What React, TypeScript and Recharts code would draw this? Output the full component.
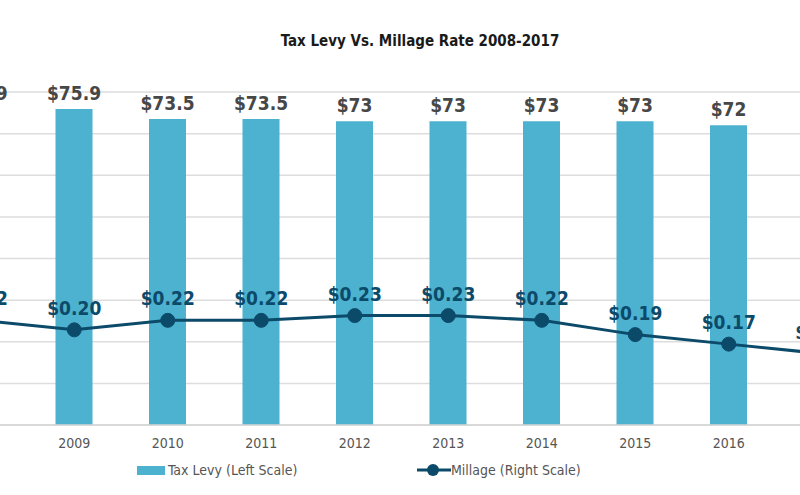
import React from "react";
import {
  ComposedChart,
  Bar,
  Line,
  XAxis,
  YAxis,
  CartesianGrid,
  LabelList,
} from "recharts";

const years = ["2008", "2009", "2010", "2011", "2012", "2013", "2014", "2015", "2016", "2017"];
const taxLevy = [75.9, 75.9, 73.5, 73.5, 73, 73, 73, 73, 72, 71];
const millage = [0.22, 0.2, 0.22, 0.22, 0.23, 0.23, 0.22, 0.19, 0.17, 0.15];
const levyTicks = [0, 10, 20, 30, 40, 50, 60, 70, 80];

const data = years.map((y, i) => ({ year: y, levy: taxLevy[i], millage: millage[i] }));

const FONT = "'DejaVu Sans Condensed', 'Liberation Sans Narrow', sans-serif";
const BAR = "#4db2cf";
const LINE = "#0c4a6a";

export default function App() {
  return (
    <div
      style={{
        position: "fixed",
        left: 0,
        top: 0,
        width: 800,
        height: 495,
        overflow: "hidden",
        background: "#fff",
        fontFamily: FONT,
      }}
    >
      <div
        style={{
          position: "absolute",
          left: 0,
          width: 800,
          top: 31,
          textAlign: "center",
          paddingLeft: 40,
          boxSizing: "border-box",
          fontSize: 15,
          fontWeight: "bold",
          color: "#1a1a1a",
          lineHeight: "20px",
        }}
      >
        Tax Levy Vs. Millage Rate 2008-2017
      </div>
      <div style={{ position: "absolute", left: -66, top: 0 }}>
        <ComposedChart
          width={935}
          height={495}
          data={data}
          margin={{ top: 92, right: 0, left: 0, bottom: 0 }}
        >
          <CartesianGrid
            yAxisId="left"
            vertical={false}
            stroke="#dddddd"
            strokeWidth={1.5}
          />
          <XAxis
            dataKey="year"
            height={70}
            tickLine={false}
            axisLine={{ stroke: "#d4d4d4", strokeWidth: 1.5 }}
            tick={{ fill: "#555", fontSize: 14, fontFamily: FONT }}
            tickMargin={7}
            interval={0}
          />
          <YAxis yAxisId="left" hide domain={[0, 80]} ticks={levyTicks} />
          <YAxis yAxisId="right" orientation="right" hide domain={[0, 0.7]} />
          <Bar
            yAxisId="left"
            dataKey="levy"
            fill={BAR}
            barSize={37}
            isAnimationActive={false}
          >
            <LabelList
              dataKey="levy"
              position="top"
              offset={9}
              fill="#474747"
              fontSize={19}
              fontWeight="bold"
              fontFamily={FONT}
              formatter={(v: any) => `$${v}`}
            />
          </Bar>
          <Line
            yAxisId="right"
            dataKey="millage"
            stroke={LINE}
            strokeWidth={3}
            dot={{ r: 7, fill: LINE, stroke: LINE, strokeWidth: 1 }}
            isAnimationActive={false}
          >
            <LabelList
              dataKey="millage"
              position="top"
              offset={15}
              fill={LINE}
              fontSize={19}
              fontWeight="bold"
              fontFamily={FONT}
              formatter={(v: any) => `$${Number(v).toFixed(2)}`}
            />
          </Line>
        </ComposedChart>
      </div>
      {/* Legend */}
      <div style={{ position: "absolute", left: 137, top: 466, width: 28, height: 9, background: BAR }} />
      <div style={{ position: "absolute", left: 168, top: 460, fontSize: 14, color: "#555", lineHeight: "20px" }}>
        Tax Levy (Left Scale)
      </div>
      <svg style={{ position: "absolute", left: 415, top: 460 }} width={38} height={20}>
        <line x1={2} y1={10} x2={36} y2={10} stroke={LINE} strokeWidth={3} />
        <circle cx={18} cy={10} r={6} fill={LINE} />
      </svg>
      <div style={{ position: "absolute", left: 451, top: 460, fontSize: 14, color: "#555", lineHeight: "20px" }}>
        Millage (Right Scale)
      </div>
    </div>
  );
}
